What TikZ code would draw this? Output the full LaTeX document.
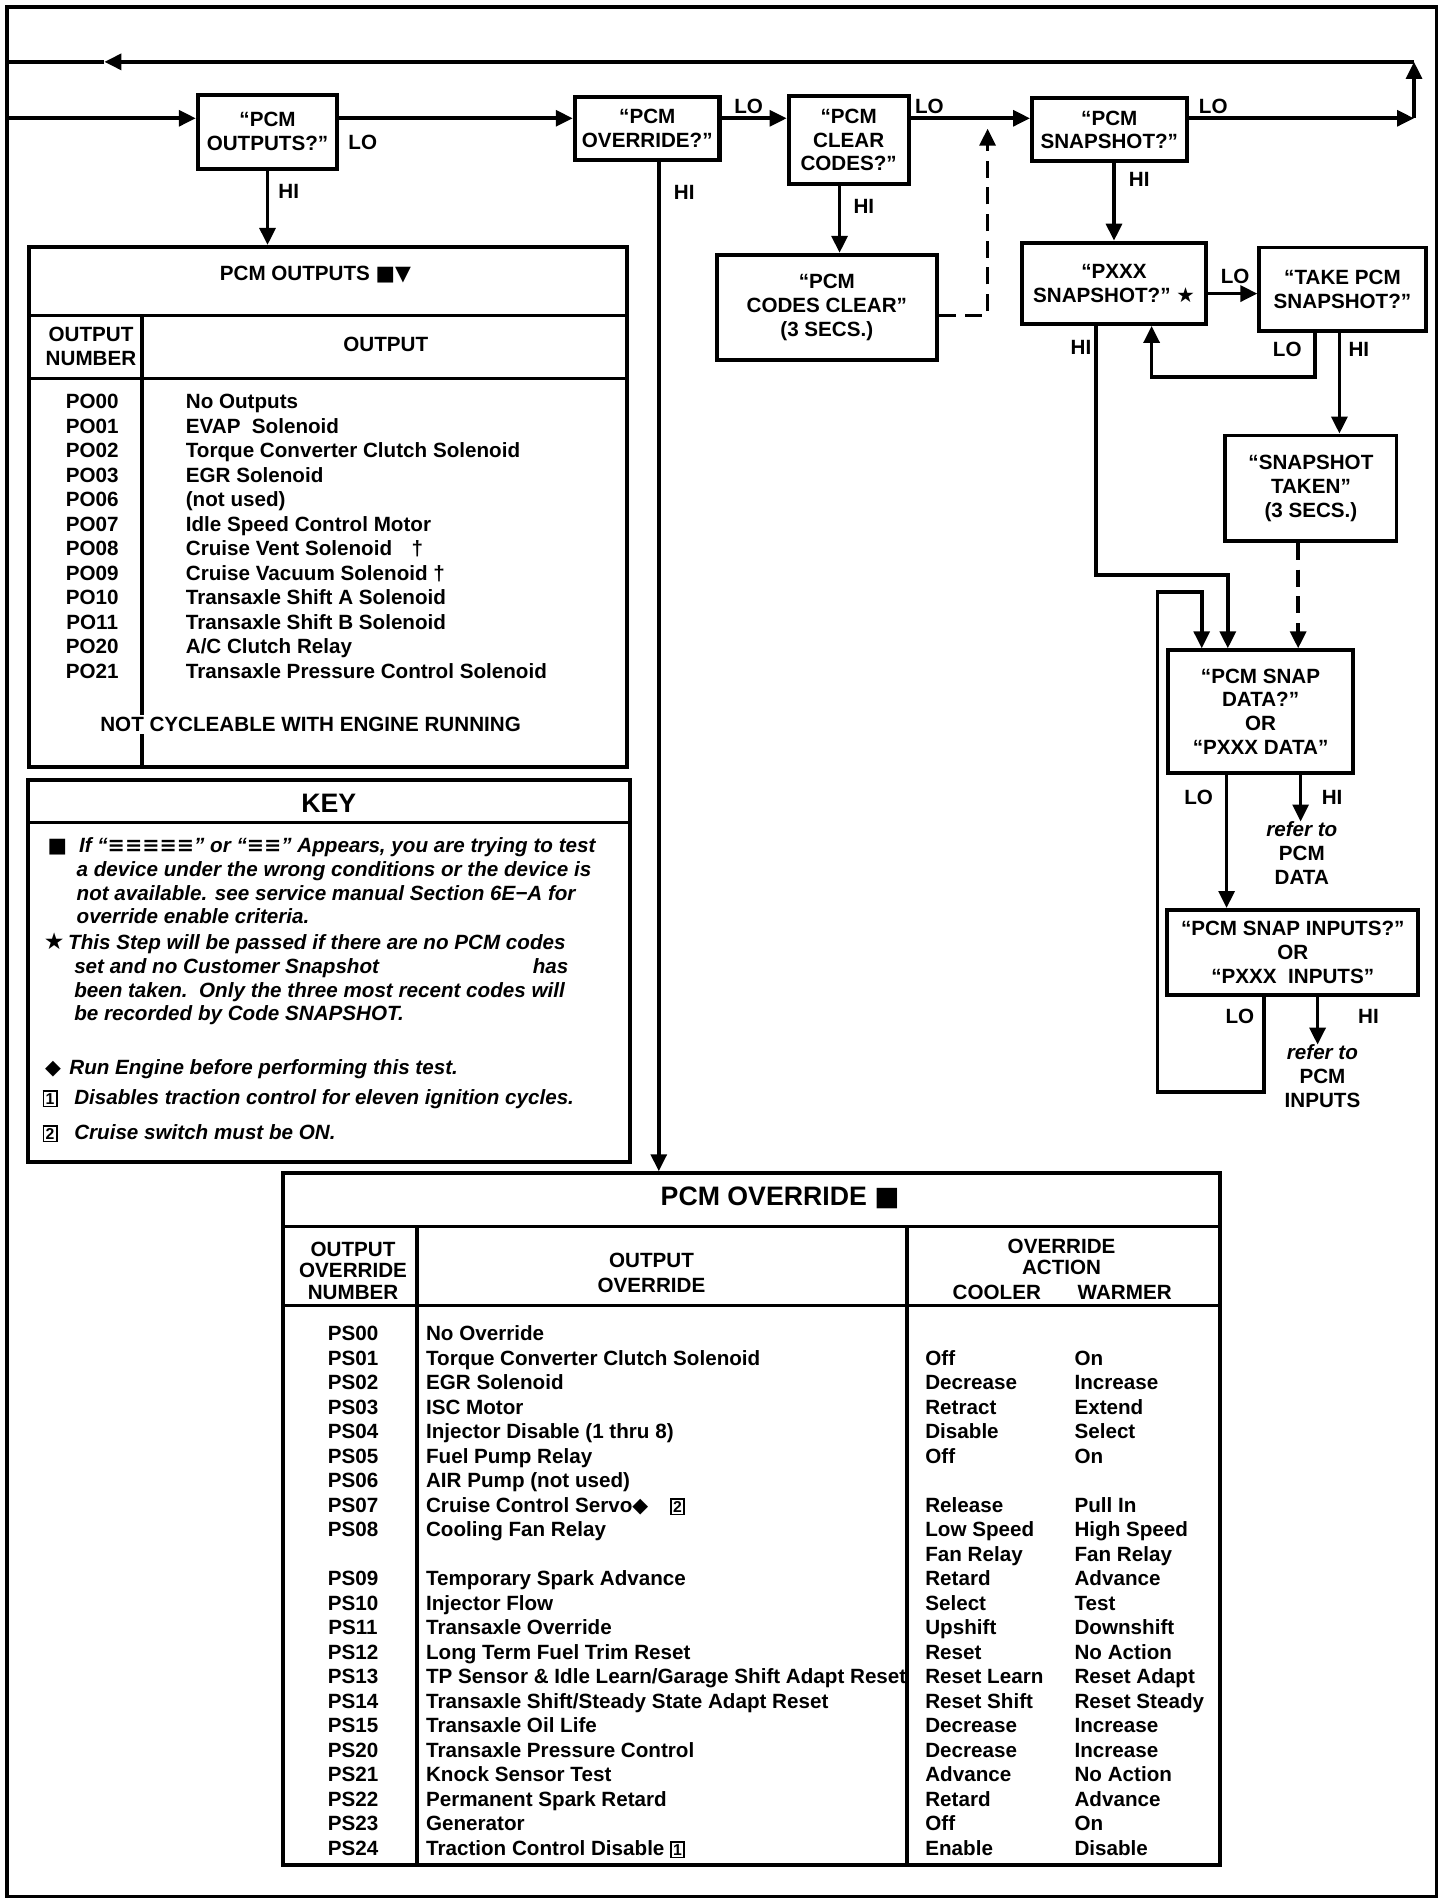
\documentclass[tikz,border=0pt]{standalone}
\usepackage{fontspec}
\setmainfont{Liberation Sans}
\newfontfamily\glyphfont{DejaVu Sans}
\usetikzlibrary{arrows.meta}

\newcommand{\bodysize}{\fontsize{17}{19.5}\selectfont}
\newcommand{\titlesize}{\fontsize{22}{24}\selectfont}
\newcommand{\sqmark}{{\glyphfont ■}}
\newcommand{\downmark}{{\glyphfont ▼}}
\newcommand{\starmark}{{\glyphfont ★}}
\newcommand{\diamark}{{\glyphfont ◆}}
\newcommand{\boxnum}[1]{{\setlength{\fboxsep}{1.2pt}\setlength{\fboxrule}{1.3pt}\fbox{\fontsize{13}{13}\selectfont\upshape #1}}}

\begin{document}
\begin{tikzpicture}[x=1pt, y=-1pt,
  every node/.style={font=\bodysize\bfseries, inner sep=1pt},
  qbox/.style={draw, line width=3.2pt, align=center, inner sep=0pt},
  tabframe/.style={draw, line width=3.2pt, inner sep=0pt},
  tabrule/.style={line width=2.9pt},
  plainline/.style={line width=3pt},
  arr/.style={line width=3pt, -{Triangle[length=14pt, width=13pt]}},
  dashline/.style={dash pattern=on 14pt off 8pt},
  keytxt/.style={anchor=base west, font=\bodysize\bfseries\itshape},
  refnote/.style={align=center, inner sep=0pt}]

\useasboundingbox (0,0) rectangle (1200,1567.7);

% Outer frame
\draw[plainline] (6,6) rectangle (1184,1563);

% Question boxes along the top line
\node (outq) [qbox, minimum width=115pt, minimum height=61pt] at (220.5,108.5) {“PCM\\OUTPUTS?”};
\node (ovrq) [qbox, line width=3.8pt, minimum width=119pt, minimum height=52pt] at (533.5,106) {“PCM\\OVERRIDE?”};
\node (clearq) [qbox, minimum width=99pt, minimum height=73pt] at (699.5,115.5) {“PCM\\CLEAR\\CODES?”};
\node (snapq) [qbox, minimum width=127.4pt, minimum height=52pt] at (914.3,107) {“PCM\\SNAPSHOT?”};

% Codes cleared message
\node (codes) [qbox, minimum width=181pt, minimum height=87pt] at (681.5,253.5) {“PCM\\CODES CLEAR”\\(3 SECS.)};

% Snapshot branch
\node (pxq) [qbox, minimum width=151.5pt, minimum height=67pt] at (918.2,233.5) {“PXXX\\SNAPSHOT?” \starmark};
\node (takeq) [qbox, minimum width=137pt, minimum height=69pt] at (1106.5,238.5) {“TAKE PCM\\SNAPSHOT?”};
\node (taken) [qbox, minimum width=141pt, minimum height=87pt] at (1080.5,402.5) {“SNAPSHOT\\TAKEN”\\(3 SECS.)};

% Snapshot data and inputs
\node (data) [qbox, minimum width=152pt, minimum height=101pt] at (1039,586.5) {“PCM SNAP\\DATA?”\\OR\\“PXXX DATA”};
\node (inputs) [qbox, minimum width=207pt, minimum height=70pt] at (1065.5,785) {“PCM SNAP INPUTS?”\\OR\\“PXXX\ \ INPUTS”};
\node (refdata) [refnote] at (1073,703) {\textit{refer to}\\PCM\\DATA};
\node (refinputs) [refnote] at (1090,887) {\textit{refer to}\\PCM\\INPUTS};

% LO / HI labels
\node (lo1) at (299,117) {LO};
\node (hi1) at (238,158) {HI};
\node (lo2) at (617,88) {LO};
\node (hi2) at (564,159) {HI};
\node (lo3) at (766,88) {LO};
\node (hi3) at (712,170) {HI};
\node (lo4) at (1000,88) {LO};
\node (hi4) at (939,148) {HI};
\node (lo5) at (1018,228) {LO};
\node (hi5) at (891,286) {HI};
\node (lo6) at (1061,288) {LO};
\node (hi6) at (1120,288) {HI};
\node (lo7) at (988,657) {LO};
\node (hi7) at (1098,657) {HI};
\node (lo8) at (1022,838) {LO};
\node (hi8) at (1128,838) {HI};

% PCM OUTPUTS table
\node (outtab) [tabframe, minimum width=493pt, minimum height=428.5pt] at (270.5,417.75) {};
\draw[tabrule] (24,260) -- (517,260);
\draw[tabrule] (24,312) -- (517,312);
\draw[tabrule] (117,260) -- (117,632);
\node (outtitle) at (260,226) {PCM OUTPUTS \sqmark\downmark};
\node (outhead1) [align=center] at (75,285.5) {OUTPUT\\NUMBER};
\node (outhead2) at (318,284) {OUTPUT};
\foreach \num/\txt [count=\i from 0] in {PO00/No Outputs, PO01/EVAP\ \ Solenoid,
    PO02/Torque Converter Clutch Solenoid, PO03/EGR Solenoid, PO06/(not used),
    PO07/Idle Speed Control Motor, PO08/{Cruise Vent Solenoid\hspace{16pt}†},
    PO09/{Cruise Vacuum Solenoid †}, PO10/Transaxle Shift A Solenoid,
    PO11/Transaxle Shift B Solenoid, PO20/{A/C Clutch Relay},
    PO21/Transaxle Pressure Control Solenoid}
{
  \node (onum\i) [anchor=base] at (76,337+20.2*\i) {\num};
  \node (otxt\i) [anchor=base west] at (152,337+20.2*\i) {\txt};
}
\node (notcycle) [fill=white, inner sep=2pt] at (256,597) {NOT CYCLEABLE WITH ENGINE RUNNING};

% KEY box
\node (keybox) [tabframe, minimum width=496pt, minimum height=314.5pt] at (271,800.25) {};
\draw[tabrule] (23,678) -- (519,678);
\node (keytitle) at (271,662) {\titlesize\bfseries KEY};
\node (keysq) [anchor=base west] at (38,703) {\sqmark};
\node (keystar) [anchor=base west] at (35,783) {\fontsize{19}{19}\selectfont\starmark};
\node (keydia) [anchor=base west] at (36,886) {\diamark};
\node (keyone) [anchor=base west] at (34,910) {\boxnum{1}};
\node (keytwo) [anchor=base west] at (34,939) {\boxnum{2}};
\foreach \x/\y/\txt [count=\i] in {
    64/703/{If “{\glyphfont ≡≡≡≡≡}” or “{\glyphfont ≡≡}” Appears, you are trying to test},
    62/722.5/{a device under the wrong conditions or the device is},
    62/742/{not available. see service manual Section 6E−A for},
    62/761.5/{override enable criteria.},
    55/783/{This Step will be passed if there are no PCM codes},
    60/802.5/{set and no Customer Snapshot},
    438/802.5/{has},
    60/822/{been taken.\ \ Only the three most recent codes will},
    60/841.5/{be recorded by Code SNAPSHOT.},
    56/886/{Run Engine before performing this test.},
    60/910/{Disables traction control for eleven ignition cycles.},
    60/939/{Cruise switch must be ON.}}
{
  \node (key\i) [keytxt] at (\x,\y) {\txt};
}

% PCM OVERRIDE table
\node (ovrtab) [tabframe, minimum width=772.6pt, minimum height=570pt] at (619.3,1252) {};
\draw[tabrule] (233,1011) -- (1005.6,1011);
\draw[tabrule] (233,1076) -- (1005.6,1076);
\draw[tabrule] (343.5,1011) -- (343.5,1537);
\draw[tabrule] (747.6,1011) -- (747.6,1537);
\node (ovrtitle) at (643,987) {\titlesize\bfseries PCM OVERRIDE \sqmark};
\node (ovrhead1) [align=center, font=\fontsize{17}{18}\selectfont\bfseries] at (291,1047.5) {OUTPUT\\OVERRIDE\\NUMBER};
\node (ovrhead2) [align=center, font=\fontsize{17}{20.5}\selectfont\bfseries] at (537,1049) {OUTPUT\\OVERRIDE};
\node (ovrhead3) [align=center, font=\fontsize{17}{18}\selectfont\bfseries] at (875,1036) {OVERRIDE\\ACTION};
\node (cooler) at (821.6,1065) {COOLER};
\node (warmer) at (927,1065) {WARMER};
\foreach \num/\txt/\cool/\warm [count=\i from 0] in {
    PS00/No Override/{}/{},
    PS01/Torque Converter Clutch Solenoid/Off/On,
    PS02/EGR Solenoid/Decrease/Increase,
    PS03/ISC Motor/Retract/Extend,
    PS04/Injector Disable (1 thru 8)/Disable/Select,
    PS05/Fuel Pump Relay/Off/On,
    PS06/AIR Pump (not used)/{}/{},
    PS07/{Cruise Control Servo\diamark\hspace{18pt}\boxnum{2}}/Release/Pull In,
    PS08/Cooling Fan Relay/Low Speed/High Speed,
    {}/{}/Fan Relay/Fan Relay,
    PS09/Temporary Spark Advance/Retard/Advance,
    PS10/Injector Flow/Select/Test,
    PS11/Transaxle Override/Upshift/Downshift,
    PS12/Long Term Fuel Trim Reset/Reset/No Action,
    PS13/{TP Sensor \& Idle Learn/Garage Shift Adapt Reset}/Reset Learn/Reset Adapt,
    PS14/{Transaxle Shift/Steady State Adapt Reset}/Reset Shift/Reset Steady,
    PS15/Transaxle Oil Life/Decrease/Increase,
    PS20/Transaxle Pressure Control/Decrease/Increase,
    PS21/Knock Sensor Test/Advance/No Action,
    PS22/Permanent Spark Retard/Retard/Advance,
    PS23/Generator/Off/On,
    PS24/{Traction Control Disable \boxnum{1}}/Enable/Disable}
{
  \node (snum\i) [anchor=base] at (291,1105+20.2*\i) {\num};
  \node (stxt\i) [anchor=base west] at (350,1105+20.2*\i) {\txt};
  \node (scool\i) [anchor=base west] at (761.5,1105+20.2*\i) {\cool};
  \node (swarm\i) [anchor=base west] at (884.5,1105+20.2*\i) {\warm};
}

% Return loop coordinates
\coordinate (lfbot) at (6,97.5);
\coordinate (lftop) at (6,51);
\coordinate (rtbot) at (1165.5,97.5);
\coordinate (rttop) at (1165.5,51);
\coordinate (backtip) at (86,51);

% Arrows along the top line
\draw[arr] (lfbot) -- (outq.west |- lfbot);
\draw[arr] (outq.east |- lfbot) -- (ovrq.west |- lfbot);
\draw[arr] (ovrq.east |- lfbot) -- (clearq.west |- lfbot);
\draw[arr] (clearq.east |- lfbot) -- (snapq.west |- lfbot);
\draw[arr] (snapq.east |- lfbot) -- (rtbot);
\draw[arr] (rtbot) -- (rttop);
\draw[arr] (rttop) -- (backtip);
\draw[plainline] (backtip) -- (lftop);

% HI branches to the tables
\coordinate (ovrhi) at ([xshift=9.5pt]ovrq.south);
\draw[arr] (outq.south) -- (outq.south |- outtab.north);
\draw[arr] (ovrhi) -- (ovrhi |- ovrtab.north);

% Clear codes branch
\coordinate (clrhi) at ([xshift=-7.5pt]clearq.south);
\coordinate (codesout) at ([yshift=-6.5pt]codes.east);
\coordinate (dashtop) at (814,106);
\draw[arr] (clrhi) -- (clrhi |- codes.north);
\draw[arr, dashline] (codesout) -| (dashtop);

% Snapshot branch
\coordinate (pxlo) at ([yshift=-8.5pt]pxq.east);
\coordinate (takelo) at ([xshift=-22.5pt]takeq.south);
\coordinate (takehi) at ([xshift=-2.5pt]takeq.south);
\coordinate (pxback) at ([xshift=31pt]pxq.south);
\draw[arr] (pxq.north |- snapq.south) -- (pxq.north);
\draw[arr] (pxlo) -- (pxlo -| takeq.west);
\draw[arr] (takelo) -- ++(0,36) -| (pxback);
\draw[arr] (takehi) -- (takehi |- taken.north);

% Into snapshot data
\coordinate (pxhi) at ([xshift=-15pt]pxq.south);
\coordinate (hijog) at (0,474);
\coordinate (datain1) at ([xshift=-48.5pt]data.north);
\coordinate (datain2) at ([xshift=-27pt]data.north);
\coordinate (datain3) at ([xshift=31pt]data.north);
\draw[arr] (pxhi) |- (hijog -| datain2) -- (datain2);
\draw[arr, dashline] (taken.south -| datain3) -- (datain3);

% Data and inputs branches
\coordinate (datalo) at ([xshift=-28pt]data.south);
\coordinate (datahi) at ([xshift=33pt]data.south);
\coordinate (inlo) at ([xshift=-23.5pt]inputs.south);
\coordinate (inhi) at ([xshift=20.5pt]inputs.south);
\coordinate (loopbot) at (954,900);
\coordinate (looptop) at (954,488);
\draw[arr] (datalo) -- (datalo |- inputs.north);
\draw[arr] (datahi) -- (datahi |- refdata.north);
\draw[arr] (inhi) -- (inhi |- refinputs.north);
\draw[arr] (inlo) |- (loopbot) -- (looptop) -| (datain1);

\end{tikzpicture}
\end{document}
